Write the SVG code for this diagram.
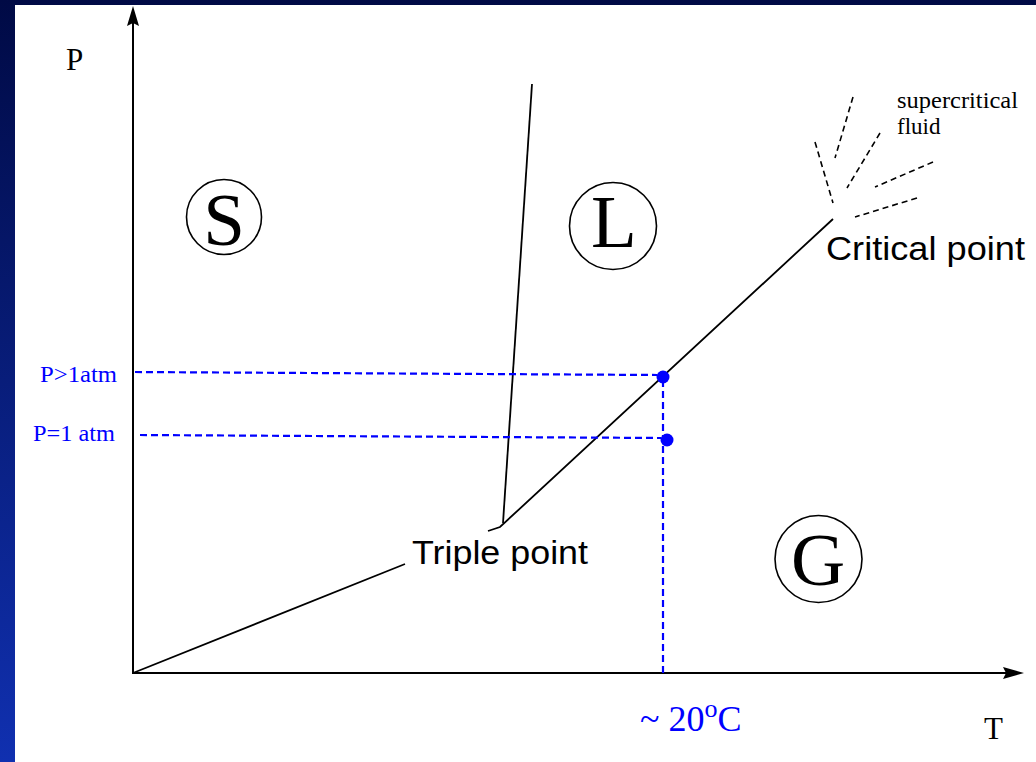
<svg xmlns="http://www.w3.org/2000/svg" width="1036" height="762" viewBox="0 0 1036 762">
<defs>
<linearGradient id="bg" x1="0" y1="0" x2="0" y2="1">
<stop offset="0" stop-color="#000a45"/>
<stop offset="1" stop-color="#1030b0"/>
</linearGradient>
<style>
.axis{stroke:#000;stroke-width:2;fill:none}
.phase{stroke:#000;stroke-width:1.8;fill:none}
.sc{stroke:#000;stroke-width:1.6;fill:none;stroke-dasharray:6 4}
.blue{stroke:#0000ff;stroke-width:2.2;fill:none;stroke-dasharray:7 4}
.ring{stroke:#000;stroke-width:1.6;fill:#fff}
.serif{font-family:"Liberation Serif","Times New Roman",serif}
.sans{font-family:"Liberation Sans",Arial,sans-serif}
.big{font-size:75px;text-anchor:middle}
</style>
</defs>
<rect x="0" y="0" width="1036" height="762" fill="url(#bg)"/>
<rect x="15" y="5" width="1021" height="757" fill="#fff"/>

<g id="axes">
<line class="axis" x1="133" y1="674" x2="133" y2="20"/>
<path d="M133,6 L139,26 L133,23 L127,26 Z" fill="#000"/>
<line class="axis" x1="132" y1="673" x2="1010" y2="673"/>
<path d="M1024,673 L1003,667 L1006,673 L1003,679 Z" fill="#000"/>
<text class="serif" x="66" y="70" font-size="31">P</text>
<text class="serif" x="984" y="739" font-size="31">T</text>
</g>

<g id="connectors">
<line class="phase" x1="133" y1="673" x2="405" y2="564"/>
<line class="phase" x1="532" y1="84" x2="503" y2="523"/>
<path class="phase" d="M488,531 L500,527 L833,219"/>
<line class="sc" x1="815" y1="142" x2="833" y2="203"/>
<line class="sc" x1="853" y1="97" x2="835" y2="158"/>
<line class="sc" x1="880" y1="133" x2="847" y2="188"/>
<line class="sc" x1="933" y1="162" x2="875" y2="187"/>
<line class="sc" x1="917" y1="198" x2="855" y2="217"/>
<line class="blue" x1="135" y1="372" x2="657" y2="375"/>
<line class="blue" x1="140" y1="435" x2="661" y2="438"/>
<line class="blue" x1="663" y1="380" x2="663" y2="673"/>
</g>

<g id="dots" fill="#0000ff">
<circle cx="663" cy="377" r="6.5"/>
<circle cx="667" cy="440" r="6.5"/>
</g>

<g id="node-S">
<circle class="ring" cx="224" cy="217" r="37.5"/>
<text class="serif big" x="224" y="245">S</text>
</g>
<g id="node-L">
<circle class="ring" cx="613" cy="226" r="43.5"/>
<text class="serif big" x="614" y="247" font-size="72">L</text>
</g>
<g id="node-G">
<circle class="ring" cx="818.5" cy="559" r="43.5"/>
<text class="serif big" x="818" y="585" font-size="72">G</text>
</g>

<g id="labels">
<text class="sans" x="412" y="564" font-size="34" textLength="176" lengthAdjust="spacingAndGlyphs">Triple point</text>
<text class="sans" x="826" y="260" font-size="34" textLength="199" lengthAdjust="spacingAndGlyphs">Critical point</text>
<text class="serif" x="897" y="108" font-size="23" textLength="121" lengthAdjust="spacingAndGlyphs">supercritical</text>
<text class="serif" x="897" y="134" font-size="23">fluid</text>
<text class="serif" x="40" y="382" font-size="23" fill="#0000ff" textLength="77" lengthAdjust="spacingAndGlyphs">P&gt;1atm</text>
<text class="serif" x="33" y="441" font-size="23" fill="#0000ff" textLength="82" lengthAdjust="spacingAndGlyphs">P=1 atm</text>
<text class="serif" x="640" y="731" font-size="36" fill="#0000ff">~ 20<tspan font-size="26" dy="-14">o</tspan><tspan dy="14">C</tspan></text>
</g>
</svg>
